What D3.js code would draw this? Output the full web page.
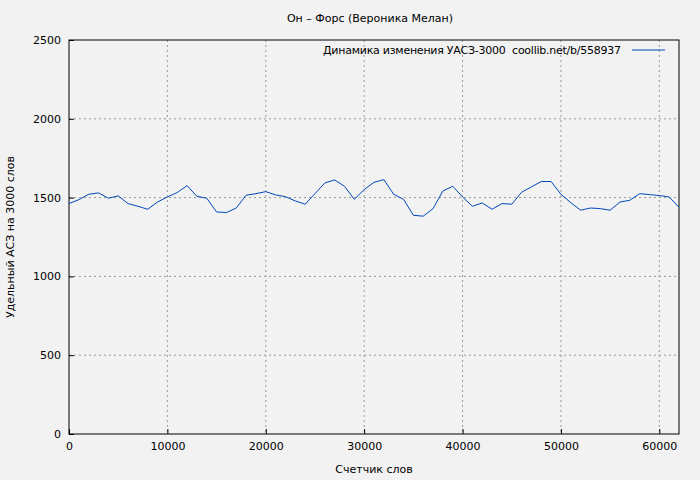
<!DOCTYPE html><html><head><meta charset="utf-8"><script src="https://cdn.jsdelivr.net/npm/d3@7"></script>
<style>body{margin:0;background:#f2f2f2}svg{font-family:"DejaVu Sans",sans-serif;font-size:11px}</style></head><body><svg width="700" height="480"></svg><script>
const words=[0,1000,2000,3000,4000,5000,6000,7000,8000,9000,10000,11000,12000,13000,14000,15000,16000,17000,18000,19000,20000,21000,22000,23000,24000,25000,26000,27000,28000,29000,30000,31000,32000,33000,34000,35000,36000,37000,38000,39000,40000,41000,42000,43000,44000,45000,46000,47000,48000,49000,50000,51000,52000,53000,54000,55000,56000,57000,58000,59000,60000,61000,62000];
const values=[1462,1487,1521,1530,1496,1511,1462,1445,1426,1472,1504,1532,1576,1508,1496,1409,1405,1434,1515,1525,1538,1517,1506,1479,1458,1525,1593,1612,1572,1489,1551,1597,1614,1521,1489,1388,1382,1430,1542,1572,1504,1445,1466,1426,1462,1458,1534,1568,1602,1602,1521,1468,1420,1434,1430,1420,1472,1483,1525,1519,1513,1504,1439];
const xTicks=[0,10000,20000,30000,40000,50000,60000];
const yTicks=[0,500,1000,1500,2000,2500];
const svg=d3.select("svg");
svg.append("rect").attr("width",700).attr("height",480).attr("fill","#f2f2f2");
const L=69,R=679,T=40,B=434;
const x=d3.scaleLinear().domain([0,62000]).range([L,R]);
const y=d3.scaleLinear().domain([0,2500]).range([B,T]);
const g=svg.append("g");
xTicks.slice(1).forEach(t=>g.append("line").attr("x1",x(t)).attr("x2",x(t)).attr("y1",T).attr("y2",B).attr("stroke","#999").attr("stroke-dasharray","2,3"));
yTicks.slice(1,-1).forEach(t=>g.append("line").attr("x1",L).attr("x2",R).attr("y1",y(t)).attr("y2",y(t)).attr("stroke","#999").attr("stroke-dasharray","2,3"));
svg.append("rect").attr("x",L).attr("y",T).attr("width",R-L).attr("height",B-T).attr("fill","none").attr("stroke","#000");
svg.append("g").attr("transform",`translate(0,${B})`).call(d3.axisBottom(x).tickValues(xTicks).tickFormat(d3.format("d")).tickSize(-5).tickPadding(8)).call(a=>{a.select(".domain").remove();a.selectAll("text").attr("font-size",11).attr("font-family","DejaVu Sans")});
svg.append("g").attr("transform",`translate(${L},0)`).call(d3.axisLeft(y).tickValues(yTicks).tickFormat(d3.format("d")).tickSize(-5).tickPadding(8)).call(a=>{a.select(".domain").remove();a.selectAll("text").attr("font-size",11).attr("font-family","DejaVu Sans")});
svg.append("path").datum(words.map((w,i)=>[w,values[i]])).attr("fill","none").attr("stroke","#0047bb").attr("stroke-width",1).attr("d",d3.line().x(d=>x(d[0])).y(d=>y(d[1])));
svg.append("text").attr("x",370).attr("y",22).attr("text-anchor","middle").text("Он – Форс (Вероника Мелан)");
svg.append("text").attr("x",374).attr("y",473).attr("text-anchor","middle").text("Счетчик слов");
svg.append("text").attr("transform","translate(14,237) rotate(-90)").attr("text-anchor","middle").text("Удельный АСЗ на 3000 слов");
svg.append("text").attr("x",621).attr("y",54).attr("text-anchor","end").attr("textLength",298).style("white-space","pre").text("Динамика изменения УАСЗ-3000  coollib.net/b/558937");
svg.append("line").attr("x1",632).attr("x2",665).attr("y1",50).attr("y2",50).attr("stroke","#0047bb");
</script></body></html>
